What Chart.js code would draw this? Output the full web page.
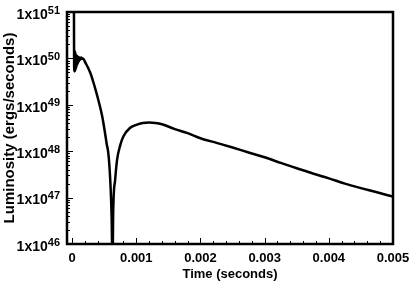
<!DOCTYPE html>
<html>
<head>
<meta charset="utf-8">
<script src="https://cdn.jsdelivr.net/npm/chart.js@4"></script>
<style>
  html, body { margin: 0; padding: 0; background: #fff; }
  #wrap { width: 415px; height: 293px; }
</style>
</head>
<body>
<div id="wrap"><canvas id="c"></canvas></div>
<script>
// time (s) and luminosity (ergs/s)
const timeSec = [
  0.000028, 0.00003, 0.000034, 0.000038, 0.000042, 0.000046, 0.00005, 0.000054,
  0.000058, 0.000064, 0.00007, 0.000078, 0.000086, 0.000095, 0.000105, 0.000115,
  0.000125, 0.00014, 0.000155, 0.00017, 0.00021, 0.00025, 0.00029, 0.00033,
  0.00037, 0.0004, 0.00044, 0.00047, 0.00051, 0.00054, 0.00056, 0.00058,
  0.0006, 0.000615, 0.00063, 0.00064, 0.00067, 0.0007, 0.00075, 0.0008,
  0.0009, 0.001, 0.0011, 0.0012, 0.0013, 0.0014, 0.0016, 0.0018,
  0.002, 0.00225, 0.0025, 0.00275, 0.003, 0.00325, 0.0035, 0.00375,
  0.004, 0.00425, 0.0045, 0.00475, 0.005
];
const luminosity = [
  2e51, 1.6e50, 5.3e49, 1.5e50, 5.2e49, 1.45e50, 5.4e49, 1.3e50,
  5.8e49, 1.2e50, 6.6e49, 1.12e50, 7.6e49, 1.08e50, 8.6e49, 1.05e50,
  9.3e49, 1.04e50, 9.8e49, 1.0e50, 7.9e49, 6.2e49, 4.6e49, 3.1e49,
  2.0e49, 1.4e49, 8.5e48, 5.5e48, 2.6e48, 1.4e48, 1.0e48, 5.0e47,
  1.6e47, 4.0e46, 3e45, 5.0e46, 2.4e47, 6.5e47, 1.35e48, 2.1e48,
  3.16e48, 3.7e48, 4.07e48, 4.17e48, 4.07e48, 3.8e48, 3.0e48, 2.45e48,
  1.9e48, 1.51e48, 1.2e48, 9.4e47, 7.4e47, 5.6e47, 4.3e47, 3.3e47,
  2.6e47, 2.0e47, 1.6e47, 1.3e47, 1.05e47
];
const xTicks = [0, 0.001, 0.002, 0.003, 0.004, 0.005];
const xLabels = ['0', '0.001', '0.002', '0.003', '0.004', '0.005'];
const yExponents = [46, 47, 48, 49, 50, 51];

const FONT = "'Liberation Sans', Arial, Helvetica, sans-serif";

const points = timeSec.map((t, i) => ({ x: t, y: luminosity[i] }));

// frame, inward ticks, x labels and 1x10^n labels
const axesPlugin = {
  id: 'axesPlugin',
  afterDatasetsDraw(chart) {
    const { ctx, chartArea: a, scales } = chart;
    const xs = scales.x, ys = scales.y;
    ctx.save();
    ctx.strokeStyle = '#000';
    ctx.lineWidth = 1;
    ctx.beginPath();
    // x ticks: major every 0.001, minor every 0.0002
    for (let i = 0; i <= 25; i++) {
      const px = Math.round(xs.getPixelForValue(i * 0.0002)) + 0.5;
      const len = i % 5 === 0 ? 6 : 3;
      ctx.moveTo(px, a.bottom);
      ctx.lineTo(px, a.bottom - len);
    }
    // y ticks: decades and 2..9
    yExponents.forEach((e, k) => {
      const mults = k === yExponents.length - 1 ? [1] : [1, 2, 3, 4, 5, 6, 7, 8, 9];
      mults.forEach(m => {
        const py = Math.round(ys.getPixelForValue(m * Math.pow(10, e))) + 0.5;
        const len = m === 1 ? 6 : 3;
        ctx.moveTo(a.left, py);
        ctx.lineTo(a.left + len, py);
      });
    });
    ctx.stroke();

    ctx.lineWidth = 2.5;
    ctx.strokeRect(a.left, a.top, a.right - a.left, a.bottom - a.top);

    ctx.fillStyle = '#000';
    ctx.textBaseline = 'middle';

    ctx.font = 'bold 13px ' + FONT;
    ctx.textAlign = 'center';
    xTicks.forEach((v, i) => {
      ctx.fillText(xLabels[i], xs.getPixelForValue(v), a.bottom + 14);
    });

    yExponents.forEach(e => {
      const py = ys.getPixelForValue(Math.pow(10, e));
      const right = a.left - 7;
      ctx.font = 'bold 11px ' + FONT;
      const ew = ctx.measureText(String(e)).width;
      ctx.textAlign = 'left';
      ctx.fillText(String(e), right - ew, py - 1.5);
      ctx.font = 'bold 14px ' + FONT;
      ctx.textAlign = 'right';
      ctx.fillText('1x10', right - ew, py + 3);
    });
    ctx.restore();
  }
};

new Chart(document.getElementById('c'), {
  type: 'scatter',
  data: {
    datasets: [{
      data: points,
      showLine: true,
      borderColor: '#000',
      borderWidth: 2.5,
      pointRadius: 0,
      cubicInterpolationMode: 'monotone',
    }]
  },
  options: {
    responsive: true,
    maintainAspectRatio: false,
    animation: false,
    layout: { padding: { top: 12, right: 22, bottom: 7, left: 0 } },
    plugins: { legend: { display: false }, tooltip: { enabled: false } },
    scales: {
      x: {
        type: 'linear',
        min: -0.00008,
        max: 0.005,
        grid: { display: false },
        border: { display: false },
        ticks: { display: false },
        afterFit: (scale) => { scale.height = 42; },
        title: {
          display: true,
          text: 'Time (seconds)',
          color: '#000',
          font: { family: FONT, size: 13, weight: 'bold' },
          padding: { top: 0, bottom: 4 },
        },
      },
      y: {
        type: 'logarithmic',
        min: 1e46,
        max: 1e51,
        grid: { display: false },
        border: { display: false },
        ticks: { display: false },
        afterFit: (scale) => { scale.width = 67; },
        title: {
          display: true,
          text: 'Luminosity (ergs/seconds)',
          color: '#000',
          font: { family: FONT, size: 15, weight: 'bold' },
          padding: { top: 1, bottom: 0 },
        },
      },
    },
  },
  plugins: [axesPlugin],
});
</script>
</body>
</html>
